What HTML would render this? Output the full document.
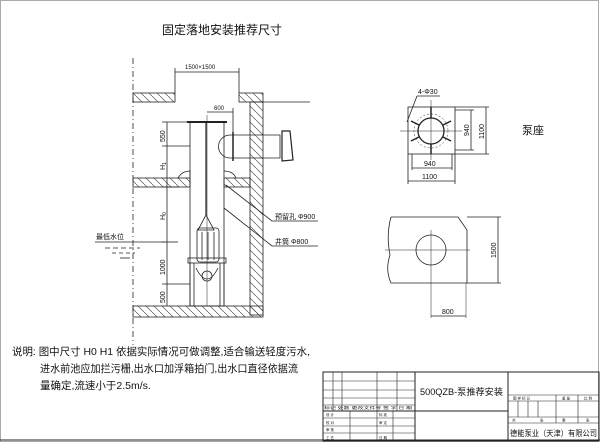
<!DOCTYPE html>
<html><head><meta charset="utf-8"><style>
html,body{margin:0;padding:0;background:#fff}
svg{display:block}
text{font-family:"Liberation Sans","Noto Sans CJK SC",sans-serif;fill:#111}
</style></head><body>
<svg width="600" height="442" viewBox="0 0 600 442" xmlns="http://www.w3.org/2000/svg">
<defs>
<pattern id="h" width="8" height="8" patternUnits="userSpaceOnUse"><path d="M0,0 L8,8" stroke="#333" stroke-width="0.6"/></pattern>
</defs>
<rect x="0.5" y="0.5" width="598" height="441" fill="none" stroke="#aaa" stroke-width="1"/>
<text x="162" y="34" font-size="12">固定落地安装推荐尺寸</text>

<g stroke="#222" stroke-width="0.8" fill="none">
<line x1="133" y1="58" x2="133" y2="345" stroke-dasharray="6,3,1,3"/>
<rect x="133" y="93" width="42" height="9" fill="url(#h)"/>
<rect x="239" y="93" width="24" height="9" fill="url(#h)"/>
<rect x="250" y="102" width="13" height="213" fill="url(#h)"/>
<rect x="133" y="178" width="57" height="9" fill="url(#h)"/>
<rect x="224" y="178" width="26" height="9" fill="url(#h)"/>
<rect x="133" y="306" width="130" height="11" fill="url(#h)"/>
<line x1="263" y1="102" x2="310" y2="102"/>
<line x1="175" y1="68" x2="175" y2="93"/><line x1="239" y1="68" x2="239" y2="93"/>
<line x1="175" y1="72" x2="239" y2="72"/>
<line x1="207" y1="112" x2="233" y2="112"/><line x1="233" y1="108" x2="233" y2="135"/>
<rect x="190" y="122" width="34" height="184"/>
<line x1="187" y1="122" x2="227" y2="122" stroke-width="2"/>
<line x1="207" y1="115" x2="207" y2="306" stroke-width="0.5"/>
<line x1="206" y1="122" x2="206" y2="215" stroke-width="1.2"/>
<path d="M230,135 L280,135 L280,158 L230,158 A11.5,11.5 0 0 1 230,135 Z"/>
<line x1="233" y1="132" x2="233" y2="161" stroke-width="1.5"/>
<path d="M282,131 L290,131 L293,160 L282,161 Z" stroke-width="1.2"/>
<path d="M178,178 Q182,171 190,171 L190,178"/><path d="M224,171 Q233,171 236,178"/>
<path d="M198,230 L206,215 L214,230 Z"/>
<rect x="197" y="228" width="22" height="34" rx="3"/>
<line x1="202" y1="232" x2="202" y2="260"/><line x1="208" y1="232" x2="208" y2="260"/><line x1="214" y1="232" x2="214" y2="260"/>
<rect x="188" y="258" width="38" height="5"/>
<line x1="190" y1="263" x2="190" y2="306"/><line x1="224" y1="263" x2="224" y2="306"/>
<line x1="194" y1="263" x2="194" y2="306"/><line x1="220" y1="263" x2="220" y2="306"/>
<path d="M196,268 Q207,290 218,268"/><circle cx="207" cy="276" r="5"/>
<line x1="167" y1="122" x2="167" y2="306"/>
<line x1="162" y1="122" x2="190" y2="122"/><line x1="162" y1="146" x2="190" y2="146"/>
<line x1="162" y1="187" x2="178" y2="187"/><line x1="162" y1="242" x2="178" y2="242"/>
<line x1="162" y1="284" x2="190" y2="284"/>
<line x1="95" y1="242" x2="165" y2="242"/>
<line x1="105" y1="248" x2="140" y2="248" stroke-dasharray="5,3"/>
<line x1="112" y1="253" x2="135" y2="253" stroke-dasharray="4,3"/>
<line x1="120" y1="258" x2="130" y2="258"/>
<polyline points="226,185 272,221 318,221"/>
<polyline points="224,208 272,246 318,246"/>
</g>
<g font-size="7">
<text x="185" y="69" font-size="6">1500×1500</text>
<text x="214" y="110" font-size="6">600</text>
<text x="275" y="219">预留孔 Φ900</text>
<text x="275" y="244">井筒 Φ800</text>
<text x="96" y="239">最低水位</text>
<text transform="translate(165,142) rotate(-90)" font-size="7">550</text>
<text transform="translate(165,170) rotate(-90)">H<tspan font-size="5" dy="1">1</tspan></text>
<text transform="translate(165,220) rotate(-90)">H<tspan font-size="5" dy="1">0</tspan></text>
<text transform="translate(165,275) rotate(-90)">1000</text>
<text transform="translate(165,303) rotate(-90)">500</text>
</g>

<g stroke="#222" stroke-width="0.8" fill="none">
<rect x="408" y="107" width="47" height="47"/>
<circle cx="431" cy="131" r="13" stroke-width="1.3"/>
<circle cx="431" cy="131" r="17" stroke-dasharray="2,2" stroke-width="0.5"/>
<line x1="400" y1="131" x2="462" y2="131" stroke-width="0.5"/><line x1="431" y1="100" x2="431" y2="160" stroke-width="0.5"/>
<g stroke-width="1.5"><line x1="431" y1="107" x2="431" y2="118"/><line x1="431" y1="144" x2="431" y2="154"/>
<line x1="411" y1="121" x2="419" y2="125"/><line x1="451" y1="121" x2="443" y2="125"/>
<line x1="411" y1="141" x2="419" y2="137"/><line x1="451" y1="141" x2="443" y2="137"/></g>
<line x1="407" y1="122" x2="417" y2="96"/><line x1="417" y1="96" x2="440" y2="96"/>
<line x1="412" y1="168" x2="452" y2="168"/><line x1="408" y1="181" x2="455" y2="181"/>
<line x1="412" y1="154" x2="412" y2="170"/><line x1="452" y1="154" x2="452" y2="170"/>
<line x1="408" y1="154" x2="408" y2="184"/><line x1="455" y1="154" x2="455" y2="184"/>
<line x1="471" y1="110" x2="471" y2="150"/><line x1="486" y1="107" x2="486" y2="154"/>
<line x1="455" y1="110" x2="474" y2="110"/><line x1="455" y1="150" x2="474" y2="150"/>
<line x1="455" y1="107" x2="489" y2="107"/><line x1="455" y1="154" x2="489" y2="154"/>
<path d="M391,217 L458,217 L467,230 L467,283 L458,283 L391,283 Q385,270 390,255 Q386,235 391,217"/>
<circle cx="431" cy="250" r="15"/>
<line x1="385" y1="250" x2="470" y2="250" stroke-width="0.5"/>
<line x1="431" y1="230" x2="431" y2="318" stroke-width="0.5"/>
<line x1="466" y1="283" x2="466" y2="318" stroke-width="0.5"/>
<line x1="431" y1="316" x2="466" y2="316"/>
<line x1="498" y1="217" x2="498" y2="283"/>
<line x1="467" y1="217" x2="501" y2="217"/><line x1="467" y1="283" x2="501" y2="283"/>
</g>
<g font-size="7">
<text x="418" y="94">4-Φ30</text>
<text x="424" y="166">940</text><text x="422" y="179">1100</text>
<text transform="translate(469,136) rotate(-90)">940</text>
<text transform="translate(484,139) rotate(-90)">1100</text>
<text transform="translate(496,258) rotate(-90)">1500</text>
<text x="442" y="314">800</text>
</g>
<text x="522" y="134" font-size="11">泵座</text>

<g font-size="10.5">
<text x="12" y="355" textLength="298" lengthAdjust="spacingAndGlyphs">说明: 图中尺寸 H0 H1 依据实际情况可做调整,适合输送轻度污水,</text>
<text x="40" y="372" textLength="258" lengthAdjust="spacingAndGlyphs">进水前池应加拦污栅,出水口加浮箱拍门,出水口直径依据流</text>
<text x="40" y="389">量确定,流速小于2.5m/s.</text>
</g>
<line x1="0" y1="440" x2="600" y2="440" stroke="#222" stroke-width="1"/>

<g stroke="#222" stroke-width="0.6" fill="none">
<rect x="323" y="372" width="276" height="69" stroke-width="1"/>
<line x1="415" y1="372" x2="415" y2="441" stroke-width="1"/>
<line x1="508" y1="372" x2="508" y2="441" stroke-width="1"/>
<line x1="415" y1="411" x2="508" y2="411" stroke-width="1"/>
<line x1="323" y1="381" x2="415" y2="381"/><line x1="323" y1="390" x2="415" y2="390"/><line x1="323" y1="398" x2="415" y2="398"/><line x1="323" y1="405" x2="415" y2="405"/>
<line x1="323" y1="411" x2="415" y2="411" stroke-width="1"/>
<line x1="323" y1="418" x2="415" y2="418"/><line x1="323" y1="426" x2="415" y2="426"/><line x1="323" y1="433" x2="415" y2="433"/>
<line x1="333" y1="372" x2="333" y2="411"/><line x1="342" y1="372" x2="342" y2="411"/><line x1="377" y1="372" x2="377" y2="441"/><line x1="397" y1="372" x2="397" y2="411"/>
<line x1="350" y1="411" x2="350" y2="441"/><line x1="393" y1="411" x2="393" y2="441"/>
<line x1="508" y1="395" x2="599" y2="395"/><line x1="508" y1="401" x2="599" y2="401"/>
<line x1="508" y1="417" x2="599" y2="417"/><line x1="508" y1="423" x2="599" y2="423"/>
<line x1="518" y1="401" x2="518" y2="417"/><line x1="528" y1="401" x2="528" y2="417"/><line x1="538" y1="401" x2="538" y2="417"/>
<line x1="556" y1="395" x2="556" y2="423"/><line x1="578" y1="395" x2="578" y2="423"/>
</g>
<g font-size="3.5" fill="#333">
<text x="324" y="409" textLength="88" lengthAdjust="spacingAndGlyphs">标记 处数 更改文件号 签 字 日 期</text>
<text x="326" y="416">设 计</text><text x="379" y="416">标 准</text>
<text x="326" y="424">校 对</text><text x="379" y="424">审 定</text>
<text x="326" y="431">审 核</text>
<text x="326" y="439">工 艺</text><text x="379" y="439">日 期</text>
<text x="513" y="399.5">图 样 标 记</text><text x="562" y="399.5">重 量</text><text x="584" y="399.5">比 例</text>
<text x="512" y="421.5">共</text><text x="540" y="421.5">张</text><text x="562" y="421.5">第</text><text x="586" y="421.5">张</text>
</g>
<text x="420" y="395" font-size="9" textLength="83" lengthAdjust="spacingAndGlyphs">500QZB-泵推荐安装</text>
<text x="510" y="436" font-size="8" textLength="87" lengthAdjust="spacingAndGlyphs">德能泵业（天津）有限公司</text>
</svg>
</body></html>
